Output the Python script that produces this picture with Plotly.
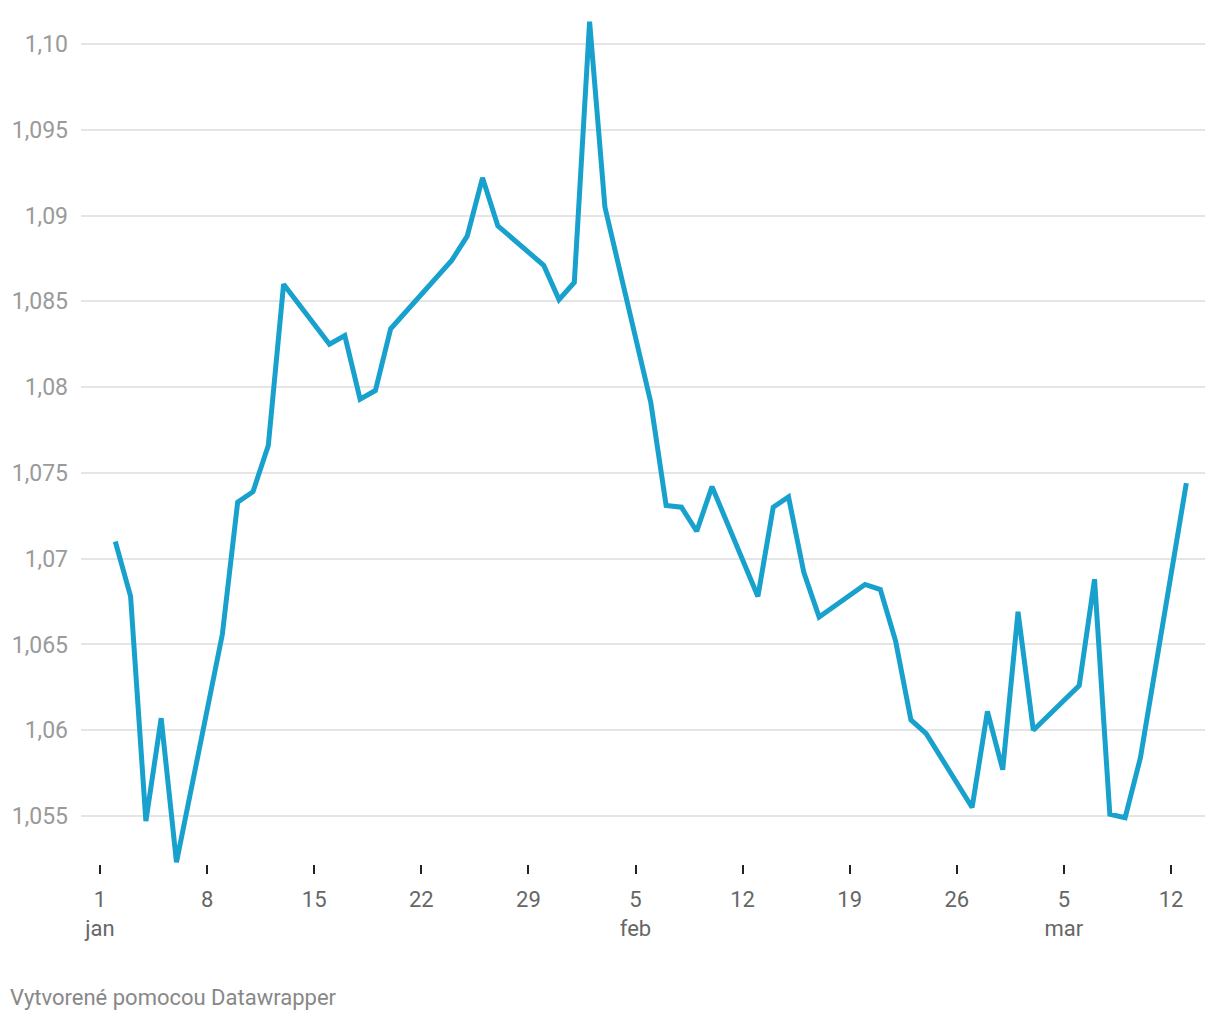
import plotly.graph_objects as go

dates = [
    "2023-01-02", "2023-01-03", "2023-01-04", "2023-01-05", "2023-01-06",
    "2023-01-09", "2023-01-10", "2023-01-11", "2023-01-12", "2023-01-13",
    "2023-01-16", "2023-01-17", "2023-01-18", "2023-01-19", "2023-01-20",
    "2023-01-23", "2023-01-24", "2023-01-25", "2023-01-26", "2023-01-27",
    "2023-01-30", "2023-01-31", "2023-02-01", "2023-02-02", "2023-02-03",
    "2023-02-06", "2023-02-07", "2023-02-08", "2023-02-09", "2023-02-10",
    "2023-02-13", "2023-02-14", "2023-02-15", "2023-02-16", "2023-02-17",
    "2023-02-20", "2023-02-21", "2023-02-22", "2023-02-23", "2023-02-24",
    "2023-02-27", "2023-02-28", "2023-03-01", "2023-03-02", "2023-03-03",
    "2023-03-06", "2023-03-07", "2023-03-08", "2023-03-09", "2023-03-10",
    "2023-03-13",
]
values = [
    1.0710, 1.0678, 1.0547, 1.0607, 1.0523,
    1.0656, 1.0733, 1.0739, 1.0766, 1.0860,
    1.0825, 1.0830, 1.0793, 1.0798, 1.0834,
    1.0864, 1.0874, 1.0888, 1.0922, 1.0894,
    1.0871, 1.0851, 1.0861, 1.1013, 1.0905,
    1.0791, 1.0731, 1.0730, 1.0716, 1.0742,
    1.0678, 1.0730, 1.0736, 1.0692, 1.0666,
    1.0685, 1.0682, 1.0652, 1.0606, 1.0598,
    1.0555, 1.0611, 1.0577, 1.0669, 1.0600,
    1.0626, 1.0688, 1.0551, 1.0549, 1.0584,
    1.0744,
]

x_tick_vals = ["2023-01-01", "2023-01-08", "2023-01-15", "2023-01-22", "2023-01-29",
               "2023-02-05", "2023-02-12", "2023-02-19", "2023-02-26", "2023-03-05",
               "2023-03-12"]
x_tick_text = ["1<br>jan", "8", "15", "22", "29", "5<br>feb", "12", "19", "26",
               "5<br>mar", "12"]
y_tick_vals = [1.055, 1.06, 1.065, 1.07, 1.075, 1.08, 1.085, 1.09, 1.095, 1.10]
y_tick_text = ["1,055", "1,06", "1,065", "1,07", "1,075", "1,08", "1,085", "1,09",
               "1,095", "1,10"]

PLOT_H = 860
fig = go.Figure()
fig.add_trace(go.Scatter(
    x=dates, y=values, mode="lines",
    line=dict(color="#18a1cd", width=5),
    hoverinfo="x+y",
))

fig.update_layout(
    width=1212, height=1012,
    margin=dict(l=73, r=15, t=2, b=150),
    paper_bgcolor="white", plot_bgcolor="white",
    showlegend=False,
    font=dict(family="Roboto", size=22, color="#666666"),
    xaxis=dict(
        type="date",
        range=["2022-12-30 18:14", "2023-03-14 05:17"],
        tickvals=x_tick_vals, ticktext=x_tick_text,
        ticks="outside", ticklen=9, tickwidth=2, tickcolor="#222222",
        showgrid=False, zeroline=False, showline=False,
        tickfont=dict(family="Roboto", size=22, color="#666666"),
        ticklabelstandoff=7,
        anchor="free", position=6 / PLOT_H,
    ),
    yaxis=dict(
        range=[1.051854, 1.10198],
        tickvals=y_tick_vals, ticktext=y_tick_text,
        showgrid=True, gridcolor="#e5e5e5", gridwidth=1.5,
        zeroline=False, showline=False, ticks="",
        tickfont=dict(family="Roboto", size=23, color="#9a9a9a"),
        ticklabelstandoff=12,
    ),
    annotations=[dict(
        text="Vytvorené pomocou Datawrapper",
        xref="paper", yref="paper", x=-73/1124, y=-(989-862)/PLOT_H,
        xanchor="left", yanchor="middle", showarrow=False,
        font=dict(family="Roboto", size=22, color="#888888"),
    )],
)

fig.write_html("out.html")
